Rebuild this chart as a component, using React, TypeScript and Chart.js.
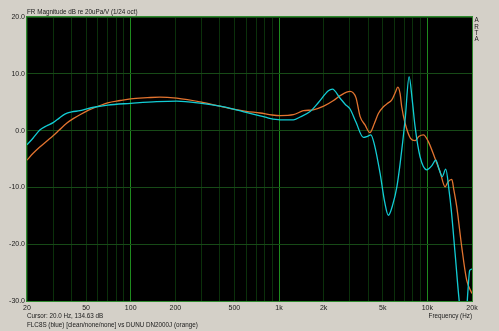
import React, { useEffect, useRef } from 'react';
import { Chart, registerables } from 'chart.js';

Chart.register(...registerables);

// ---- data ----
const blueFreq = [20, 22, 24.4, 27, 30, 33, 36, 40, 45.5, 50, 59, 70, 100, 150, 204, 300, 400, 492, 600, 745, 850, 1017, 1250, 1387, 1620, 1850, 2152, 2290, 2582, 2800, 3013, 3300, 3706, 3950, 4157, 4400, 4800, 5150, 5460, 5850, 6230, 6547, 7080, 7534, 7900, 8265, 8930, 9910, 10700, 11400, 12000, 12600, 13310, 14000, 14500, 15380, 16400, 17200, 18200, 18800, 19300, 20000];
const blueDb = [-2.5, -1.3, 0.1, 0.8, 1.4, 2.2, 2.9, 3.3, 3.5, 3.8, 4.2, 4.5, 4.8, 5.1, 5.2, 4.8, 4.3, 3.8, 3.2, 2.6, 2.2, 1.9, 1.9, 2.4, 3.35, 5.0, 7.0, 7.3, 5.7, 4.6, 3.8, 1.5, -1.2, -1.0, -0.75, -2.5, -7.5, -12.5, -14.9, -13.0, -9.9, -5.9, 1.9, 9.5, 5.5, 0.7, -4.6, -6.9, -6.2, -5.2, -6.8, -8.1, -6.8, -10.5, -14, -21.6, -30, -34, -33, -28, -24.6, -24.4];

const orangeFreq = [20, 22, 24.4, 27, 30, 33, 37, 41, 45.5, 52, 59, 70, 85, 100, 130, 157, 204, 300, 400, 492, 600, 745, 900, 1017, 1250, 1459, 1700, 2000, 2330, 2600, 3013, 3300, 3518, 3800, 4100, 4400, 4676, 5056, 5400, 5757, 6100, 6324, 6550, 6717, 7080, 7700, 8265, 8800, 9400, 10100, 11270, 12200, 13180, 13800, 14620, 15100, 15780, 17060, 18400, 20000];
const orangeDb = [-5.2, -4.0, -2.9, -1.9, -0.9, 0.1, 1.3, 2.1, 2.8, 3.6, 4.2, 4.9, 5.3, 5.6, 5.8, 5.9, 5.7, 5.0, 4.3, 3.8, 3.4, 3.1, 2.75, 2.65, 2.8, 3.5, 3.65, 4.3, 5.3, 6.2, 6.9, 5.8, 2.5, 1.0, -0.35, 1.3, 3.0, 4.2, 4.8, 5.4, 6.8, 7.65, 6.5, 4.2, 1.3, -1.35, -1.75, -1.0, -0.75, -1.8, -4.9, -7.3, -9.9, -9.0, -8.6, -10.5, -13.4, -20.5, -26.3, -28.7];

const yTickValues = [-30, -20, -10, 0, 10, 20];
const xGridValues = [20, 30, 40, 50, 60, 70, 80, 90, 100, 200, 300, 400, 500, 600, 700, 800, 900, 1000, 2000, 3000, 4000, 5000, 6000, 7000, 8000, 9000, 10000, 20000];
const xMajorValues = [100, 1000, 10000];
const xLabelValues = [20, 50, 100, 200, 500, 1000, 2000, 5000, 10000, 20000];
const xLabelTexts = ['20', '50', '100', '200', '500', '1k', '2k', '5k', '10k', '20k'];

const titleText = 'FR Magnitude dB re 20uPa/V (1/24 oct)';
const cursorText = 'Cursor: 20.0 Hz, 134.63 dB';
const legendText = 'FLC8S (blue) [clean/none/none] vs DUNU DN2000J (orange)';
const xAxisTitle = 'Frequency (Hz)';
const sideLetters = ['A', 'R', 'T', 'A'];

const FONT = '"Liberation Sans", Arial, sans-serif';
const TICK_SIZE = 7;
const TEXT_SIZE = 6.3;

const toPoints = (f: number[], d: number[]) => f.map((x, i) => ({ x, y: d[i] }));

const framePlugin = {
  id: 'frame',
  beforeDraw(chart: any) {
    const { ctx, chartArea: a, width, height } = chart;
    ctx.save();
    ctx.fillStyle = '#D4D0C8';
    ctx.fillRect(0, 0, width, height);
    ctx.fillStyle = '#000000';
    ctx.fillRect(a.left, a.top, a.right - a.left, a.bottom - a.top);
    ctx.restore();
  },
  afterDraw(chart: any) {
    const { ctx, chartArea: a } = chart;
    ctx.save();
    ctx.strokeStyle = '#2F8A2F';
    ctx.lineWidth = 1;
    ctx.strokeRect(Math.round(a.left) - 0.5, Math.round(a.top) - 0.5, Math.round(a.right - a.left) + 1, Math.round(a.bottom - a.top) + 1);
    ctx.fillStyle = '#1a1a1a';
    ctx.font = `${TEXT_SIZE}px ${FONT}`;
    ctx.textBaseline = 'middle';
    ctx.textAlign = 'left';
    ctx.fillText(titleText, a.left, 12.5);
    ctx.fillText(cursorText, a.left, 316);
    ctx.fillText(legendText, a.left, 325);
    ctx.textAlign = 'right';
    ctx.fillText(xAxisTitle, a.right, 316);
    ctx.textAlign = 'center';
    sideLetters.forEach((ch, i) => ctx.fillText(ch, a.right + 4.5, 20.5 + i * 6.3));
    ctx.restore();
  },
};

export default function App() {
  const ref = useRef<HTMLCanvasElement | null>(null);
  useEffect(() => {
    document.body.style.margin = '0';
    const canvas = ref.current;
    if (!canvas) return;
    const chart = new Chart(canvas, {
      type: 'line',
      data: {
        datasets: [
          {
            label: 'FLC8S',
            data: toPoints(blueFreq, blueDb),
            borderColor: '#12CCD4',
            borderWidth: 1.3,
            pointRadius: 0,
            cubicInterpolationMode: 'monotone',
            fill: false,
          },
          {
            label: 'DUNU DN2000J',
            data: toPoints(orangeFreq, orangeDb),
            borderColor: '#E2732F',
            borderWidth: 1.3,
            pointRadius: 0,
            cubicInterpolationMode: 'monotone',
            fill: false,
          },
        ],
      },
      options: {
        responsive: false,
        animation: false,
        devicePixelRatio: 1,
        layout: { padding: { top: 17, right: 27, left: 0, bottom: 0 } },
        plugins: { legend: { display: false }, tooltip: { enabled: false } },
        scales: {
          x: {
            type: 'logarithmic',
            min: 20,
            max: 20000,
            afterBuildTicks: (scale: any) => {
              scale.ticks = xGridValues.map((v) => ({ value: v }));
            },
            afterFit: (scale: any) => {
              scale.height = 30;
            },
            border: { display: false },
            grid: {
              drawTicks: false,
              lineWidth: 1,
              color: (c: any) => {
                const v = c.tick ? c.tick.value : 0;
                return xMajorValues.includes(v) ? '#1E8A1E' : '#0B300B';
              },
            },
            ticks: {
              autoSkip: false,
              maxRotation: 0,
              padding: 3,
              color: '#1a1a1a',
              font: { family: FONT, size: TICK_SIZE },
              callback: (value: any) => {
                const i = xLabelValues.indexOf(Number(value));
                return i >= 0 ? xLabelTexts[i] : '';
              },
            },
          },
          y: {
            min: -30,
            max: 20,
            afterBuildTicks: (scale: any) => {
              scale.ticks = yTickValues.map((v) => ({ value: v }));
            },
            afterFit: (scale: any) => {
              scale.width = 27;
            },
            border: { display: false },
            grid: { drawTicks: false, color: '#174A17', lineWidth: 1 },
            ticks: {
              padding: 2,
              color: '#1a1a1a',
              font: { family: FONT, size: TICK_SIZE },
              callback: (value: any) => Number(value).toFixed(1),
            },
          },
        },
      },
      plugins: [framePlugin],
    } as any);
    return () => chart.destroy();
  }, []);
  return <canvas ref={ref} width={499} height={331} style={{ display: 'block' }} />;
}
